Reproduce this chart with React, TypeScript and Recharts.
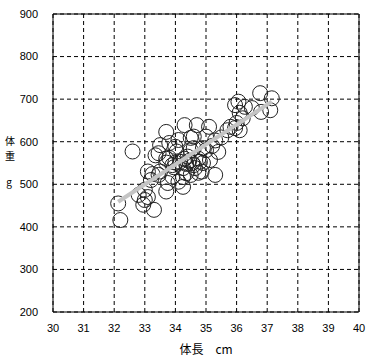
import {
  ScatterChart, Scatter, XAxis, YAxis, CartesianGrid, ReferenceLine,
} from 'recharts'

// 体長 (cm) and 体重 (g)
const lengthCm = [
  32.13, 32.2, 32.6, 32.8, 33.0, 33.0, 33.3, 33.2, 33.1, 33.45,
  33.7, 33.75, 33.45, 33.5, 34.0, 33.9, 33.7, 33.7, 34.3, 34.7,
  35.1, 33.35, 33.8, 34.1, 34.5, 34.6, 35.0, 35.4, 33.25, 33.7,
  34.0, 34.25, 34.6, 34.9, 35.3, 33.9, 34.25, 34.5, 34.75, 34.1,
  36.77, 37.15, 37.1, 36.06, 35.95, 36.27, 36.5, 36.8, 36.1, 36.2,
  36.0, 35.95, 35.8, 35.7, 36.1, 34.86, 34.8, 35.13, 34.6, 35.0,
  33.8, 34.35, 34.25, 34.64, 34.5, 34.75, 34.9, 34.15, 34.04, 33.5,
  35.3, 35.5, 32.95, 33.1, 34.4, 35.2, 33.95, 34.35, 34.45, 34.55,
  34.3,
]
const weightG = [
  455, 416, 577, 475, 487, 463, 440, 510, 530, 522,
  483, 503, 573, 592, 588, 545, 560, 623, 639, 639,
  635, 568, 597, 604, 609, 585, 580, 576, 524, 551,
  551, 538, 545, 550, 522, 518, 517, 522, 527, 506,
  714, 702, 674, 694, 686, 682, 679, 670, 668, 655,
  644, 632, 635, 627, 627, 530, 553, 557, 612, 612,
  562, 526, 494, 538, 580, 560, 585, 553, 577, 530,
  603, 610, 452, 470, 565, 590, 540, 548, 555, 550,
  560,
]

// regression line end points
const fitX = [32.13, 37.15]
const fitY = [459, 694]

const xTicks = [30, 31, 32, 33, 34, 35, 36, 37, 38, 39, 40]
const yTicks = [200, 300, 400, 500, 600, 700, 800, 900]

const points = lengthCm.map((x, i) => ({ x, y: weightG[i] }))
const fit = fitX.map((x, i) => ({ x, y: fitY[i] }))

const tickStyle = { fontSize: 11, fill: '#000', fontFamily: 'Liberation Sans, sans-serif' }
const jpFont = "'Noto Sans CJK JP', sans-serif"

const OpenCircle = (props: any) => (
  <circle cx={props.cx} cy={props.cy} r={7.5} fill="none" stroke="#222" strokeWidth={1} />
)

// vertical 体重 g, one glyph per line
const YTitle = () => (
  <g fontSize={10} fill="#000" fontFamily={jpFont} textAnchor="middle">
    <text x={10} y={145}>体</text>
    <text x={10} y={160}>重</text>
    <text x={9} y={186}>g</text>
  </g>
)

export default function App() {
  return (
    <div style={{ position: 'fixed', left: 0, top: 0, width: 372, height: 363, background: '#fff' }}>
      <ScatterChart width={372} height={363} margin={{ top: 14, right: 13, bottom: 0, left: 0 }}>
        <CartesianGrid stroke="#000" strokeDasharray="4 3" />
        <XAxis
          type="number"
          dataKey="x"
          domain={[30, 40]}
          ticks={xTicks}
          height={51}
          tickSize={0}
          tickMargin={12}
          tick={tickStyle}
          axisLine={{ stroke: '#000' }}
          label={{
            value: '体長　cm', position: 'insideBottom', offset: 9,
            style: { fontSize: 12, fill: '#000', fontFamily: jpFont },
          }}
        />
        <YAxis
          type="number"
          dataKey="y"
          domain={[200, 900]}
          ticks={yTicks}
          width={53}
          tickSize={0}
          tickMargin={15}
          tick={tickStyle}
          axisLine={{ stroke: '#000' }}
          label={{ content: YTitle }}
        />
        <ReferenceLine y={900} stroke="#000" />
        <ReferenceLine x={40} stroke="#000" />
        <Scatter data={points} shape={OpenCircle} isAnimationActive={false} />
        <Scatter
          data={fit}
          line={{ stroke: '#c4c4c4', strokeWidth: 4 }}
          shape={() => <g />}
          isAnimationActive={false}
        />
      </ScatterChart>
    </div>
  )
}
